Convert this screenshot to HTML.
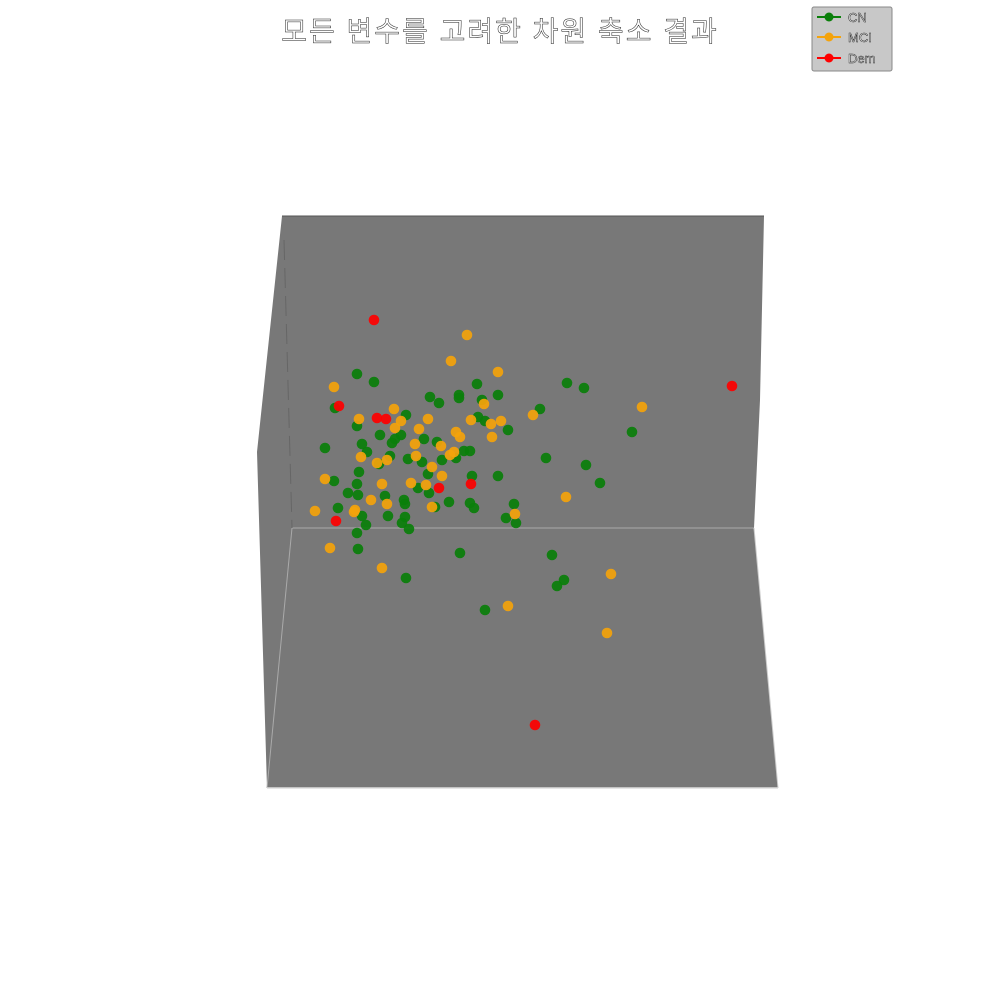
<!DOCTYPE html>
<html><head><meta charset="utf-8">
<style>
html,body{margin:0;padding:0;background:#fff;}
svg{display:block;}
text{font-family:"Liberation Sans","Noto Sans CJK KR","NanumGothic",sans-serif;}
</style></head>
<body>
<svg id="chart" width="1000" height="1000" viewBox="0 0 1000 1000" xmlns="http://www.w3.org/2000/svg">
  <g>
    <polygon points="282,216 764,216 760,400 754,528 778,788 267,788 257,452" fill="#787878"/>
    <line x1="282" y1="216" x2="764" y2="216" stroke="#555" stroke-width="1"/>
    <line x1="292" y1="528" x2="754" y2="528" stroke="#999" stroke-width="1.5"/>
    <line x1="292" y1="528" x2="267" y2="788" stroke="#aaa" stroke-width="1"/>
    <line x1="754" y1="528" x2="778" y2="788" stroke="#ccc" stroke-width="1"/>
    <line x1="267" y1="788" x2="778" y2="788" stroke="#ddd" stroke-width="1.5"/>
    <line x1="284" y1="240" x2="292" y2="528" stroke="#666" stroke-width="1" stroke-dasharray="20,8"/>
  </g>
  <g id="points"></g>
  <text x="500" y="41" text-anchor="middle" font-size="28" letter-spacing="2" fill="#fff" stroke="#222" stroke-width="0.5">모든 변수를 고려한 차원 축소 결과</text>
  <g>
    <rect x="812" y="7" width="80" height="64" rx="2" fill="#c8c8c8" stroke="#888"/>
    <g>
      <line x1="817" y1="17" x2="841" y2="17" stroke="#0a7f0a" stroke-width="2"/>
      <circle cx="829" cy="17" r="4.5" fill="#0a7f0a"/>
      <text x="848" y="22" font-size="13" fill="#fff" stroke="#222" stroke-width="0.5">CN</text>
    </g>
    <g>
      <line x1="817" y1="37" x2="841" y2="37" stroke="#f4a30b" stroke-width="2"/>
      <circle cx="829" cy="37" r="4.5" fill="#f4a30b"/>
      <text x="848" y="42" font-size="13" fill="#fff" stroke="#222" stroke-width="0.5">MCI</text>
    </g>
    <g>
      <line x1="817" y1="58" x2="841" y2="58" stroke="#ff0000" stroke-width="2"/>
      <circle cx="829" cy="58" r="4.5" fill="#ff0000"/>
      <text x="848" y="63" font-size="13" fill="#fff" stroke="#222" stroke-width="0.5">Dem</text>
    </g>
  </g>
</svg>
<script>
// Projected component values (screen-projected units)
const cnX = [357,374,430,439,459,459,477,498,482,335,406,357,478,485,508,540,380,401,395,392,362,367,325,424,437,464,470,456,390,379,408,422,442,546,359,428,472,498,334,357,348,358,385,418,429,404,405,435,449,470,474,514,338,362,366,388,405,402,409,506,516,357,358,567,584,632,586,600,460,552,564,557,485,406];
const cnY = [374,382,397,403,395,398,384,395,400,408,415,426,417,421,430,409,435,435,439,443,444,452,448,439,442,451,451,458,456,464,459,462,460,458,472,474,476,476,481,484,493,495,496,488,493,500,504,507,502,503,508,504,508,516,525,516,517,523,529,518,523,533,549,383,388,432,465,483,553,555,580,586,610,578];
const mciX = [467,451,498,334,484,359,394,401,395,428,419,471,491,501,492,533,456,460,415,441,361,387,377,416,450,454,432,442,325,382,411,426,387,371,355,354,315,432,515,330,642,566,611,607,508,382];
const mciY = [335,361,372,387,404,419,409,421,428,419,429,420,424,421,437,415,432,437,444,446,457,460,463,456,455,452,467,476,479,484,483,485,504,500,510,512,511,507,514,548,407,497,574,633,606,568];
const demX = [374,339,377,386,439,471,336,732,535];
const demY = [320,406,418,419,488,484,521,386,725];

const xScale = v => 0 + v * 1;
const yScale = v => 0 + v * 1;
const g = document.getElementById('points');
const NS = 'http://www.w3.org/2000/svg';
function draw(xs, ys, color, cls) {
  for (let i = 0; i < xs.length; i++) {
    const c = document.createElementNS(NS, 'circle');
    c.setAttribute('cx', xScale(xs[i]));
    c.setAttribute('cy', yScale(ys[i]));
    c.setAttribute('r', 5.3);
    c.setAttribute('fill', color);
    c.setAttribute('fill-opacity', 0.92);
    
    
    g.appendChild(c);
  }
}
draw(cnX, cnY, '#0a7f0a', 'point-cn');
draw(mciX, mciY, '#f4a30b', 'point-mci');
draw(demX, demY, '#ff0000', 'point-dem');
</script>
</body></html>
